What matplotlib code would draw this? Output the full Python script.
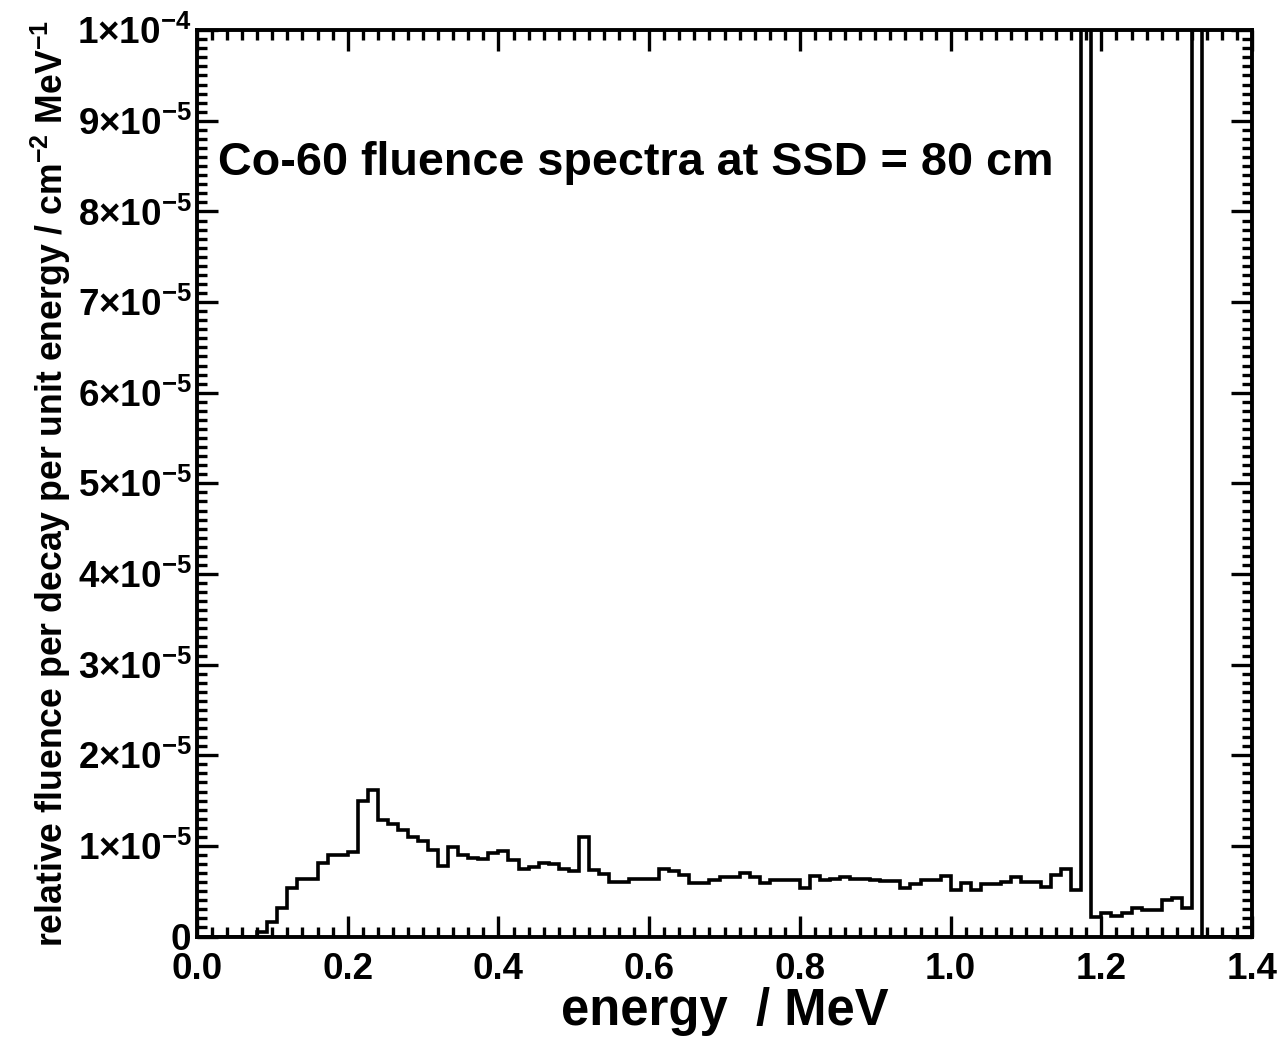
import numpy as np
import matplotlib
matplotlib.use("Agg")
import matplotlib.pyplot as plt
from matplotlib.ticker import MultipleLocator, FuncFormatter

plt.rcParams['font.family'] = ['Liberation Sans', 'DejaVu Sans']
plt.rcParams['mathtext.fontset'] = 'custom'
plt.rcParams['mathtext.rm'] = 'Liberation Sans:bold'
plt.rcParams['mathtext.it'] = 'Liberation Sans:italic'
plt.rcParams['mathtext.bf'] = 'Liberation Sans:bold'

# Histogram: bin width in MeV and fluence per bin (units of 1e-5)
bin_width = 1.0 / 75.0
fluence_e5 = [
    0, 0, 0, 0, 0, 0, 0.05, 0.16, 0.31, 0.53,
    0.64, 0.64, 0.81, 0.90, 0.90, 0.93, 1.49, 1.62, 1.29, 1.24,
    1.17, 1.10, 1.05, 0.95, 0.78, 0.99, 0.90, 0.87, 0.86, 0.92,
    0.94, 0.84, 0.75, 0.77, 0.81, 0.80, 0.75, 0.72, 1.10, 0.73,
    0.69, 0.60, 0.60, 0.63, 0.63, 0.63, 0.74, 0.72, 0.68, 0.59,
    0.59, 0.62, 0.66, 0.66, 0.70, 0.66, 0.59, 0.62, 0.62, 0.62,
    0.54, 0.67, 0.62, 0.63, 0.66, 0.63, 0.63, 0.62, 0.61, 0.61,
    0.54, 0.58, 0.62, 0.62, 0.67, 0.51, 0.59, 0.51, 0.58, 0.58,
    0.60, 0.66, 0.60, 0.60, 0.55, 0.68, 0.74, 0.51, 40.0, 0.21,
    0.26, 0.23, 0.26, 0.32, 0.29, 0.29, 0.40, 0.42, 0.31, 40.0,
    0, 0, 0, 0, 0,
]
fluence = np.array(fluence_e5) * 1e-5
edges = np.arange(len(fluence) + 1) * bin_width

title_text = "Co-60 fluence spectra at SSD = 80 cm"
x_label = "energy  / MeV"
y_label = r"relative fluence per decay per unit energy / cm$^{-2}$ MeV$^{-1}$"

fig = plt.figure(figsize=(12.79, 10.37), dpi=100)
ax = fig.add_axes([0.154, 0.0969, 0.825, 0.874])

ax.stairs(fluence, edges, color='black', linewidth=2.6, baseline=None)

ax.set_xlim(0, 1.4)
ax.set_ylim(0, 1e-4)

ax.xaxis.set_major_locator(MultipleLocator(0.2))
ax.xaxis.set_minor_locator(MultipleLocator(0.02))
ax.yaxis.set_major_locator(MultipleLocator(1e-5))
ax.yaxis.set_minor_locator(MultipleLocator(1e-6))

ax.xaxis.set_major_formatter(FuncFormatter(lambda v, p: f"{v:.1f}"))

def yfmt(v, p):
    if abs(v) < 1e-12:
        return "0"
    n = int(round(v / 1e-5))
    if n == 10:
        return r"1×10$^{-4}$"
    return rf"{n}×10$^{{-5}}$"

ax.yaxis.set_major_formatter(FuncFormatter(yfmt))

ax.tick_params(which='both', direction='in', top=True, right=True, width=2.4, colors='black')
ax.tick_params(which='major', length=15)
ax.tick_params(which='minor', length=7.5)
ax.tick_params(axis='x', which='major', labelsize=26.5, pad=11)
ax.tick_params(axis='y', which='major', labelsize=26.5, pad=4)
for lab in ax.get_xticklabels() + ax.get_yticklabels():
    lab.set_fontweight('bold')

for s in ax.spines.values():
    s.set_linewidth(2.8)

ax.set_xlabel(x_label, fontsize=36.5, fontweight='bold', labelpad=0)
ax.set_ylabel(y_label, fontsize=25.7, fontweight='bold', labelpad=3)

ax.text(0.02, 0.853, title_text, transform=ax.transAxes, fontsize=33.7,
        fontweight='bold', ha='left', va='center')

fig.savefig("out.png", dpi=100)
